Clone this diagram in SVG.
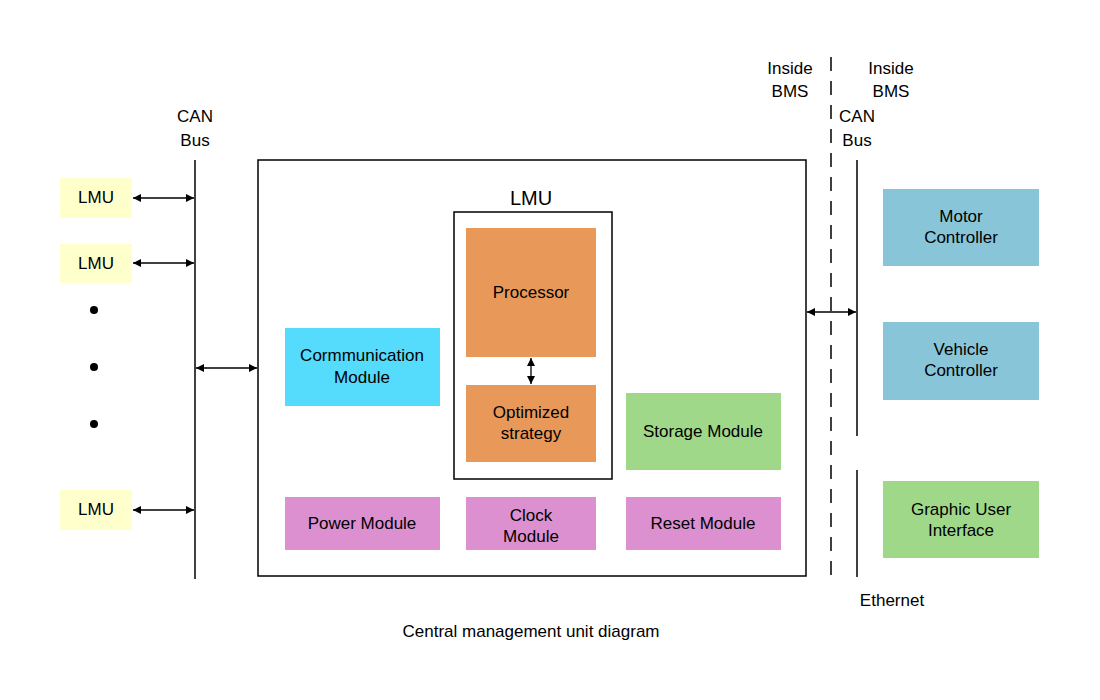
<svg xmlns="http://www.w3.org/2000/svg" width="1100" height="700" viewBox="0 0 1100 700">
<defs>
<marker id="a" viewBox="0 0 10 10" refX="10" refY="5" markerWidth="8" markerHeight="8" orient="auto-start-reverse" markerUnits="userSpaceOnUse"><path d="M0,0L10,5L0,10z" fill="#000"/></marker>
<style>
text{font-family:"Liberation Sans",Arial,sans-serif;font-size:17px;fill:#000;text-anchor:middle}
.l{stroke:#000;stroke-width:1.5;fill:none}
.c{stroke:#000;stroke-width:1.3;marker-start:url(#a);marker-end:url(#a)}
</style>
</defs>
<rect width="1100" height="700" fill="#fff"/>
<g id="lmu1"><rect x="60" y="178" width="72" height="40" fill="#ffffcc"/><text x="96" y="203">LMU</text></g>
<g id="lmu2"><rect x="60" y="244" width="72" height="39" fill="#ffffcc"/><text x="96" y="269">LMU</text></g>
<g id="lmu3"><rect x="60" y="490" width="72" height="40" fill="#ffffcc"/><text x="96" y="515">LMU</text></g>
<g id="dots"><circle cx="94" cy="310" r="4"/><circle cx="94" cy="367" r="4"/><circle cx="94" cy="424" r="4"/></g>
<g id="canbus"><line class="l" x1="195" y1="160" x2="195" y2="579"/><text x="195" y="122">CAN</text><text x="195" y="146">Bus</text></g>
<g id="cmu"><rect class="l" x="258" y="160" width="548" height="416"/><text x="531" y="637">Central management unit diagram</text></g>
<g id="lmuinner"><rect class="l" x="454" y="212" width="158" height="267"/><text x="531" y="205" style="font-size:20px">LMU</text></g>
<g id="proc"><rect x="466" y="228" width="130" height="129" fill="#e8995a"/><text x="531" y="298">Processor</text></g>
<g id="opt"><rect x="466" y="385" width="130" height="77" fill="#e8995a"/><text x="531" y="418">Optimized</text><text x="531" y="439">strategy</text></g>
<g id="comm"><rect x="285" y="328" width="155" height="78" fill="#55dbfb"/><text x="362" y="361">Cormmunication</text><text x="362" y="383">Module</text></g>
<g id="storage"><rect x="626" y="393" width="155" height="77" fill="#a0d88a"/><text x="703" y="437">Storage Module</text></g>
<g id="power"><rect x="285" y="497" width="155" height="53" fill="#dc90d0"/><text x="362" y="529">Power Module</text></g>
<g id="clock"><rect x="466" y="497" width="130" height="53" fill="#dc90d0"/><text x="531" y="521">Clock</text><text x="531" y="542">Module</text></g>
<g id="reset"><rect x="626" y="497" width="155" height="53" fill="#dc90d0"/><text x="703" y="529">Reset Module</text></g>
<g id="boundary"><line x1="831" y1="57" x2="831" y2="580" stroke="#000" stroke-width="1.5" stroke-dasharray="14,10"/><text x="790" y="74">Inside</text><text x="790" y="97">BMS</text><text x="891" y="74">Inside</text><text x="891" y="97">BMS</text></g>
<g id="rbus"><line class="l" x1="857" y1="160" x2="857" y2="436"/><line class="l" x1="857" y1="470" x2="857" y2="577"/><text x="857" y="122">CAN</text><text x="857" y="146">Bus</text><text x="892" y="606">Ethernet</text></g>
<g id="motor"><rect x="883" y="189" width="156" height="77" fill="#88c5d8"/><text x="961" y="222">Motor</text><text x="961" y="243">Controller</text></g>
<g id="vehicle"><rect x="883" y="322" width="156" height="78" fill="#88c5d8"/><text x="961" y="355">Vehicle</text><text x="961" y="376">Controller</text></g>
<g id="gui"><rect x="883" y="481" width="156" height="77" fill="#a0d88a"/><text x="961" y="515">Graphic User</text><text x="961" y="536">Interface</text></g>
<g id="connectors">
<line class="c" x1="133" y1="198" x2="194" y2="198"/>
<line class="c" x1="133" y1="263" x2="194" y2="263"/>
<line class="c" x1="133" y1="510" x2="194" y2="510"/>
<line class="c" x1="196" y1="368" x2="257" y2="368"/>
<line class="c" x1="807" y1="312" x2="856" y2="312"/>
<line class="c" x1="531" y1="358" x2="531" y2="384"/>
</g>
</svg>
